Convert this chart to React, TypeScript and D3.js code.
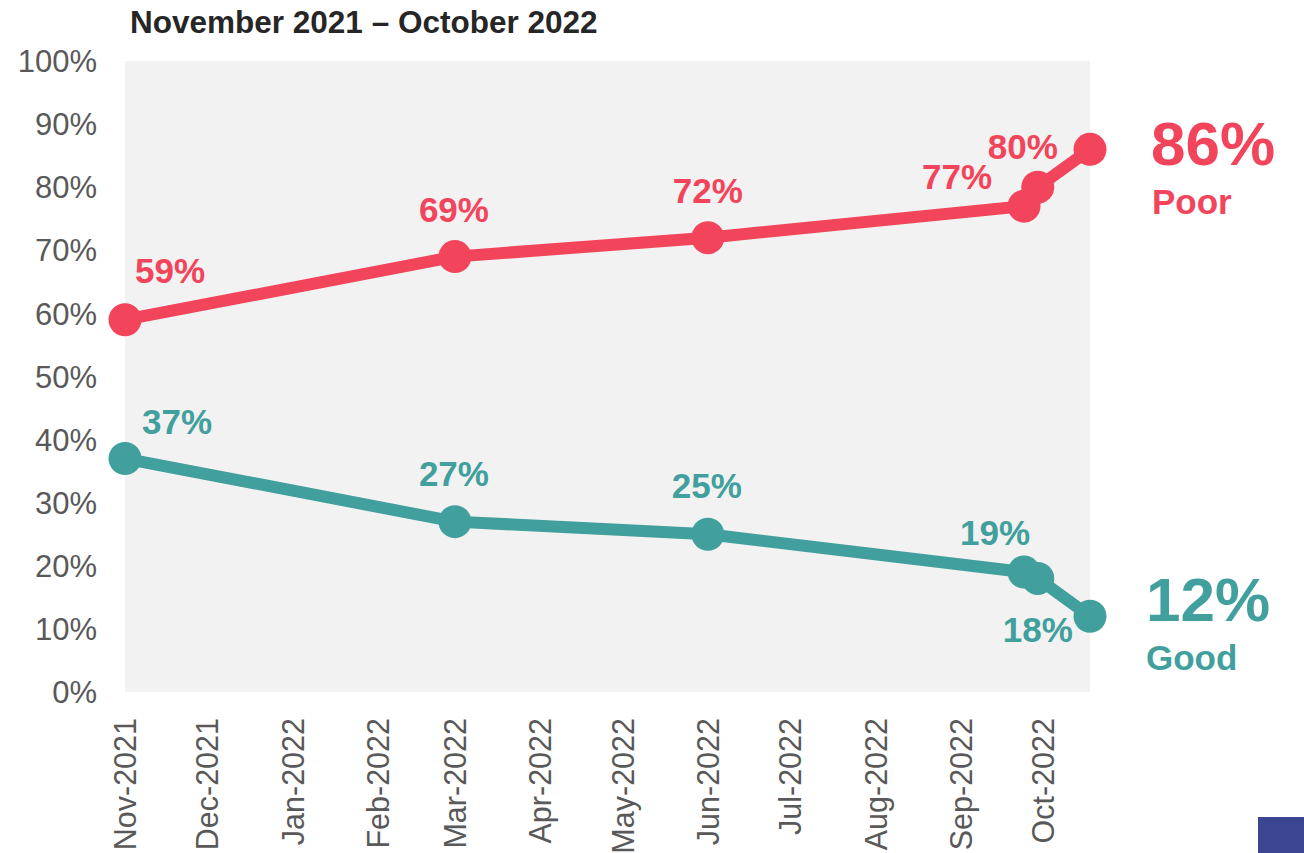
import React from "react";
import * as d3 from "d3";

const title = "November 2021 – October 2022";
const surveyDates = ["2021-11-01", "2022-03-01", "2022-06-01", "2022-09-24", "2022-09-29", "2022-10-18"];
const poorValues = [59, 69, 72, 77, 80, 86];
const goodValues = [37, 27, 25, 19, 18, 12];
const yTicks = [0, 10, 20, 30, 40, 50, 60, 70, 80, 90, 100];
const seriesNames = ["Poor", "Good"];

const W = 1304;
const H = 853;
const RED = "#F2445A";
const TEAL = "#419F9D";
const AXIS_TEXT = "#595959";
const FONT = "'Liberation Sans', Arial, sans-serif";

// label offsets (layout only) relative to each point
const poorLabelOffsets: ([number, number] | null)[] = [[45, -37], [-1, -35], [0, -35], [-67, -17], [-15, -28], null];
const goodLabelOffsets: ([number, number] | null)[] = [[52, -25], [-1, -36], [-1, -36], [-29, -27], [0, 64], null];

export default function App() {
  const parse = d3.timeParse("%Y-%m-%d");
  const dates = surveyDates.map((d) => parse(d) as Date);
  const x = d3
    .scaleTime()
    .domain([parse("2021-11-01") as Date, parse("2022-10-18") as Date])
    .range([125, 1090]);
  const y = d3.scaleLinear().domain([0, 100]).range([692, 61]);
  const monthTicks = d3.timeMonth.range(parse("2021-11-01") as Date, parse("2022-10-02") as Date);
  const fmt = d3.timeFormat("%b-%Y");

  const line = d3
    .line<number>()
    .x((_, i) => x(dates[i]))
    .y((v) => y(v));

  const series = [
    { name: seriesNames[0], values: poorValues, color: RED, offsets: poorLabelOffsets },
    { name: seriesNames[1], values: goodValues, color: TEAL, offsets: goodLabelOffsets },
  ];

  const lastX = x(dates[dates.length - 1]);

  return (
    <svg
      width={W}
      height={H}
      style={{ position: "absolute", left: 0, top: 0, background: "#fff" }}
      fontFamily={FONT}
    >
      <rect x={x.range()[0]} y={y(100)} width={x.range()[1] - x.range()[0]} height={y(0) - y(100)} fill="#F2F2F2" />
      <text x={130} y={33} fontSize={31.5} fontWeight="bold" fill="#262626">
        {title}
      </text>
      {yTicks.map((t) => (
        <text key={t} x={97} y={y(t)} dy="0.36em" textAnchor="end" fontSize={31} fill={AXIS_TEXT}>
          {t}%
        </text>
      ))}
      {monthTicks.map((d) => (
        <text
          key={+d}
          transform={`translate(${x(d) + 11},${718}) rotate(-90)`}
          textAnchor="end"
          fontSize={30.5}
          fill={AXIS_TEXT}
        >
          {fmt(d)}
        </text>
      ))}
      {series.map((s) => (
        <g key={s.name}>
          <path d={line(s.values) || ""} fill="none" stroke={s.color} strokeWidth={12} strokeLinejoin="round" />
          {s.values.map((v, i) => (
            <circle key={i} cx={x(dates[i])} cy={y(v)} r={16.5} fill={s.color} />
          ))}
          {s.values.map((v, i) => {
            const o = s.offsets[i];
            if (!o) return null;
            return (
              <text
                key={"l" + i}
                x={x(dates[i]) + o[0]}
                y={y(v) + o[1]}
                textAnchor="middle"
                fontSize={35}
                fontWeight="bold"
                fill={s.color}
              >
                {v}%
              </text>
            );
          })}
        </g>
      ))}
      <text x={lastX + 61} y={165} fontSize={62} fontWeight="bold" fill={RED}>
        {poorValues[poorValues.length - 1]}%
      </text>
      <text x={lastX + 62} y={214} fontSize={35} fontWeight="bold" fill={RED}>
        {seriesNames[0]}
      </text>
      <text x={lastX + 56} y={621} fontSize={62} fontWeight="bold" fill={TEAL}>
        {goodValues[goodValues.length - 1]}%
      </text>
      <text x={lastX + 56} y={670} fontSize={35} fontWeight="bold" fill={TEAL}>
        {seriesNames[1]}
      </text>
      <rect x={1258} y={817} width={46} height={36} fill="#3B4592" />
    </svg>
  );
}
